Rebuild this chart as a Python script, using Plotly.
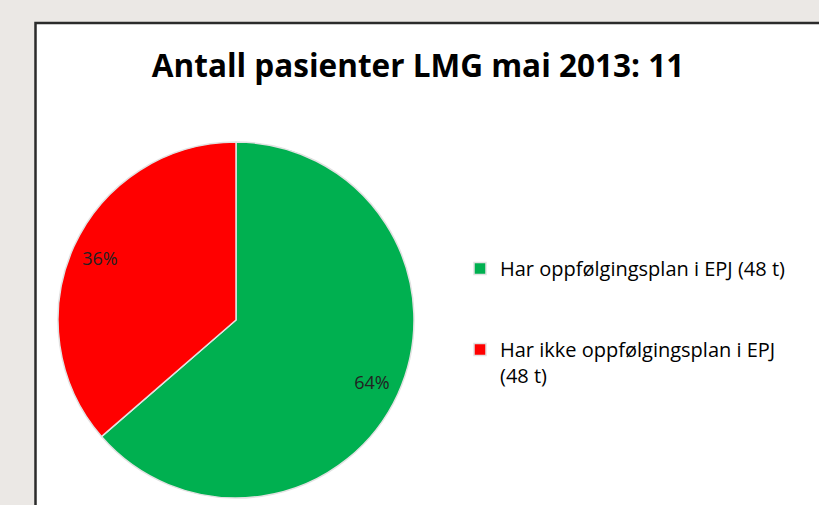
import plotly.graph_objects as go

labels = ["Har oppfølgingsplan i EPJ (48 t)<br> <br> ", "Har ikke oppfølgingsplan i EPJ<br>(48 t)"]
values = [7, 4]
colors = ["#00b050", "#ff0000"]
title_text = "Antall pasienter LMG mai 2013: 11"

W, H = 819, 505
pie_domain = dict(x=[58 / W, 414 / W], y=[1 - 498 / H, 1 - 142 / H])

fig = go.Figure()
# main pie (slices + legend)
fig.add_trace(go.Pie(
    labels=labels,
    values=values,
    sort=False,
    direction="clockwise",
    rotation=0,
    marker=dict(colors=colors, line=dict(color="#e2e2e2", width=1.5)),
    textinfo="none",
    domain=pie_domain,
    hoverinfo="label+percent",
))
# transparent ring carrying the percentage labels further out
fig.add_trace(go.Pie(
    labels=labels,
    values=values,
    sort=False,
    direction="clockwise",
    rotation=0,
    hole=0.68,
    marker=dict(colors=["rgba(0,0,0,0)"] * len(values), line=dict(width=0)),
    texttemplate="%{percent:.0%}",
    textposition="inside",
    insidetextorientation="horizontal",
    textfont=dict(family="Open Sans", size=18, color="#222222"),
    domain=pie_domain,
    showlegend=False,
    hoverinfo="skip",
))

fig.add_shape(type="rect", xref="paper", yref="paper",
              x0=35.5 / W, x1=1.05, y0=-0.05, y1=1 - 23 / H,
              fillcolor="white", line=dict(color="#2b2b2b", width=2.5), layer="below")

fig.update_layout(
    width=W, height=H, autosize=False,
    margin=dict(l=0, r=0, t=0, b=0),
    paper_bgcolor="#ebe8e5",
    plot_bgcolor="white",
    title=dict(text=title_text, x=418 / W, xanchor="center", y=1 - 66 / H, yanchor="middle",
               font=dict(family="Open Sans", size=31.5, color="black", weight="bold")),
    legend=dict(x=460 / W, xanchor="left", y=1 - 249 / H, yanchor="top",
                font=dict(family="Open Sans", size=20, color="black"),
                valign="top", bgcolor="rgba(0,0,0,0)", traceorder="normal"),
    showlegend=True,
)

fig.write_html("out.html",
               config={"displayModeBar": False},
               post_script="document.body.style.margin='0';document.body.style.background='#ebe8e5';document.body.style.overflow='hidden';")
